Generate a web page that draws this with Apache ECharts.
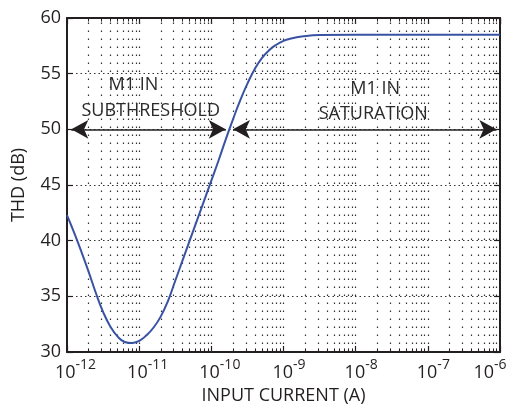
<!DOCTYPE html>
<html>
<head>
<meta charset="utf-8">
<script src="https://cdn.jsdelivr.net/npm/echarts@6/dist/echarts.min.js"></script>
<style>
  html, body { margin: 0; padding: 0; background: #fff; }
  #chart { width: 511px; height: 405px; }
</style>
</head>
<body>
<div id="chart"></div>
<script>
// THD vs input current — log x (decades), dotted grid, region arrows at 50 dB

// exponent of input current (A), i.e. I = 10^exp
const currentExp = [
  -12.00, -11.90, -11.80, -11.70, -11.60, -11.50, -11.40, -11.30, -11.20, -11.10,
  -11.00, -10.90, -10.80, -10.70, -10.60, -10.50, -10.40, -10.30, -10.20, -10.10,
  -10.00, -9.90, -9.80, -9.70, -9.60, -9.50, -9.40, -9.30, -9.20, -9.10,
  -9.00, -8.90, -8.75, -8.50, -8.00, -7.00, -6.00
];
const thdDb = [
  42.3, 40.7, 39.0, 37.2, 35.3, 33.6, 32.3, 31.4, 30.9, 30.8,
  31.0, 31.5, 32.2, 33.2, 34.6, 36.4, 38.2, 40.0, 41.8, 43.6,
  45.4, 47.2, 49.1, 50.9, 52.6, 54.1, 55.4, 56.4, 57.1, 57.6,
  57.95, 58.15, 58.33, 58.47, 58.5, 58.5, 58.5
];

const decadeExp = [-12, -11, -10, -9, -8, -7];
const minorMult = [2, 3, 4, 5, 6, 7, 8, 9];

// region arrows (exponent of end points, dB level)
const arrowLevel = 50;
const subArrowExp = [-11.94, -9.80];
const satArrowExp = [-9.70, -6.05];

// region labels: [exp, dB, text]
const regionLabels = [
  [-11.08, 53.98, 'M1 IN'],
  [-10.84, 51.69, 'SUBTHRESHOLD'],
  [-7.73, 53.67, 'M1 IN'],
  [-7.756, 51.42, 'SATURATION']
];

const FONT = '"Open Sans", "Noto Sans", sans-serif';
const INK = '#231f20';
const p10 = e => Math.pow(10, e);

const gridLines = [];
const minorTicks = [];
decadeExp.forEach(d => {
  [1].concat(minorMult).forEach(k => {
    const x = k * p10(d);
    if (!(k === 1 && d === -12)) {
      gridLines.push([{ coord: [x, 30] }, { coord: [x, 60] }]);
    }
    if (k > 1) {
      minorTicks.push([{ coord: [x, 30] }, { coord: [x, 30.32] }]);
      minorTicks.push([{ coord: [x, 59.68] }, { coord: [x, 60] }]);
    }
  });
});

const chart = echarts.init(document.getElementById('chart'), null, { renderer: 'canvas' });

const supLabel = v => {
  const e = Math.round(Math.log10(v));
  const s = String(e);
  if (e === -6) return '{b|10}{s|' + s + '}{padR|}';
  return (s.length > 2 ? '{padL|}' : '{padS|}') + '{b|10}{s|' + s + '}';
};

const xAxisBase = {
  type: 'log',
  logBase: 10,
  min: 1e-12,
  max: 1e-6,
  interval: 1,
  axisLine: { show: true, lineStyle: { color: INK, width: 2 } },
  axisTick: { show: true, inside: true, length: 6, lineStyle: { color: INK, width: 1.2 } },
  splitLine: { show: false },
  minorTick: { show: false }
};

chart.setOption({
  animation: false,
  backgroundColor: '#fff',
  grid: { left: 67, right: 11, top: 18, bottom: 53, containLabel: false, outerBoundsMode: 'none' },
  xAxis: [
    Object.assign({}, xAxisBase, {
      position: 'bottom',
      name: 'INPUT CURRENT (A)',
      nameLocation: 'middle',
      nameGap: 28,
      nameTextStyle: { color: INK, fontFamily: FONT, fontSize: 18 },
      axisLabel: {
        margin: 6,
        color: INK,
        fontFamily: FONT,
        hideOverlap: false,
        formatter: supLabel,
        rich: {
          b: { fontSize: 18, fontFamily: FONT, color: INK, lineHeight: 24, verticalAlign: 'bottom' },
          s: { fontSize: 14, fontFamily: FONT, color: INK, lineHeight: 14, verticalAlign: 'top' },
          padL: { width: 17 },
          padS: { width: 11 },
          padR: { width: 20 }
        }
      }
    }),
    Object.assign({}, xAxisBase, {
      position: 'top',
      axisLabel: { show: false }
    })
  ],
  yAxis: [
    {
      type: 'value',
      min: 30,
      max: 60,
      interval: 5,
      position: 'left',
      name: 'THD (dB)',
      nameLocation: 'middle',
      nameGap: 39,
      nameTextStyle: { color: INK, fontFamily: FONT, fontSize: 18 },
      axisLine: { show: true, lineStyle: { color: INK, width: 2 } },
      axisTick: { show: true, inside: true, length: 6, lineStyle: { color: INK, width: 1.2 } },
      axisLabel: { margin: 6, color: INK, fontFamily: FONT, fontSize: 18 },
      splitLine: { show: true, lineStyle: { color: '#333', width: 1.2, type: [1.5, 3] } }
    },
    {
      type: 'value',
      min: 30,
      max: 60,
      interval: 5,
      position: 'right',
      axisLine: { show: true, lineStyle: { color: INK, width: 2 } },
      axisTick: { show: true, inside: true, length: 6, lineStyle: { color: INK, width: 1.2 } },
      axisLabel: { show: false },
      splitLine: { show: false }
    }
  ],
  series: [
    {
      // dotted vertical grid, decades + minors
      type: 'line',
      data: [],
      silent: true,
      markLine: {
        silent: true,
        symbol: 'none',
        label: { show: false },
        lineStyle: { color: '#333', width: 1.2, type: [1.5, 6.5] },
        emphasis: { disabled: true },
        data: gridLines
      }
    },
    {
      // minor ticks on bottom/top
      type: 'line',
      data: [],
      silent: true,
      markLine: {
        silent: true,
        symbol: 'none',
        label: { show: false },
        lineStyle: { color: INK, width: 1, type: 'solid' },
        emphasis: { disabled: true },
        data: minorTicks
      }
    },
    {
      name: 'THD',
      type: 'line',
      smooth: 0.5,
      symbol: 'none',
      lineStyle: { color: '#3953a4', width: 2 },
      data: currentExp.map((e, i) => [p10(e), thdDb[i]]),
      z: 5
    },
    {
      // region arrows + labels
      type: 'line',
      data: [],
      silent: true,
      markLine: {
        silent: true,
        symbol: ['arrow', 'arrow'],
        symbolSize: [14, 17],
        label: { show: false },
        lineStyle: { color: INK, width: 1.6, type: 'solid' },
        itemStyle: { color: INK },
        emphasis: { disabled: true },
        data: [
          [{ coord: [p10(subArrowExp[0]), arrowLevel] }, { coord: [p10(subArrowExp[1]), arrowLevel] }],
          [{ coord: [p10(satArrowExp[0]), arrowLevel] }, { coord: [p10(satArrowExp[1]), arrowLevel] }]
        ]
      },
      markPoint: {
        silent: true,
        symbol: 'circle',
        symbolSize: 1,
        itemStyle: { color: 'rgba(0,0,0,0)' },
        label: {
          show: true,
          position: 'inside',
          formatter: '{b}',
          color: '#2b2b2b',
          fontFamily: FONT,
          fontSize: 18
        },
        data: regionLabels.map(r => ({ name: r[2], coord: [p10(r[0]), r[1]] }))
      }
    }
  ]
});
</script>
</body>
</html>
